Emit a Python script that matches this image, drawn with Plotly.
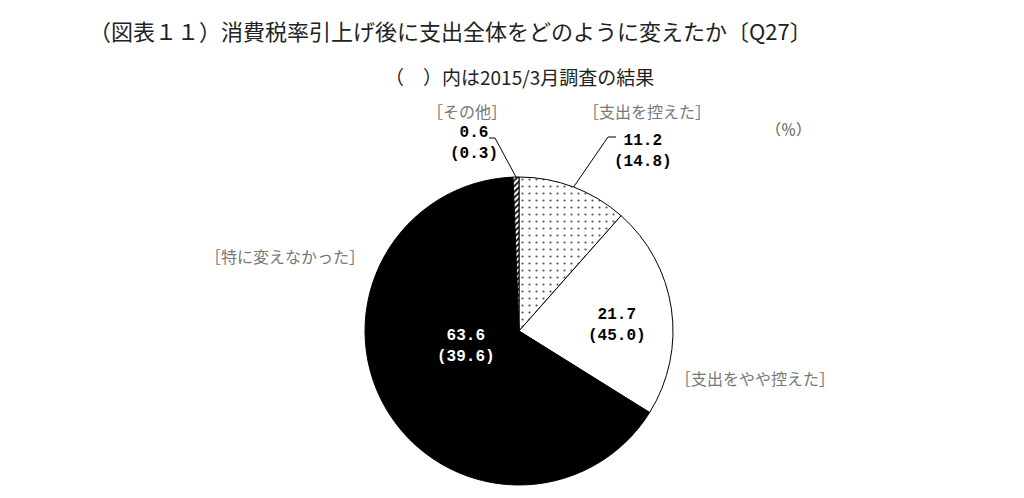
import math
import plotly.graph_objects as go

# data (clockwise from 12 o'clock)
categories = ["支出を控えた", "支出をやや控えた", "特に変えなかった", "その他"]
values_now = [11.2, 21.7, 63.6, 0.6]
values_prev = [14.8, 45.0, 39.6, 0.3]

W, H = 1024, 498
OFF = 8  # page body margin
CX, CY, R = 519, 331, 154  # pie centre / radius on screen, px

FONT = "Noto Sans CJK JP"
NUM_FONT = "Liberation Mono"


def px2paper(px, py):
    return (px - OFF) / W, 1 - (py - OFF) / H


def arc_point(cum, total):
    # point on the rim for a cumulative value (clockwise from top)
    a = 2 * math.pi * cum / total
    return px2paper(CX + R * math.sin(a), CY - R * math.cos(a))


fig = go.Figure()

x0, y0 = px2paper(CX - R, CY + R)
x1, y1 = px2paper(CX + R, CY - R)

fig.add_trace(go.Pie(
    labels=categories,
    values=values_now,
    textinfo="none",
    sort=False,
    direction="clockwise",
    rotation=0,
    marker=dict(
        colors=["white", "white", "black", "white"],
        line=dict(color="black", width=1),
        pattern=dict(
            shape=[".", "", "", "/"],
            fgcolor=["#555", "black", "black", "black"],
            bgcolor="white",
            size=[7, 8, 8, 4],
            solidity=[0.08, 0.3, 0.3, 0.45],
        ),
    ),
    domain=dict(x=[x0, x1], y=[y0, y1]),
    hoverinfo="skip",
    showlegend=False,
))

total = sum(values_now)
annotations = []
shapes = []


def add_text(text, px, py, font):
    x, y = px2paper(px, py)
    annotations.append(dict(
        text=text, x=x, y=y, xref="paper", yref="paper", showarrow=False,
        xanchor="center", yanchor="middle", font=font))


# title and subtitle
add_text("（図表１１）消費税率引上げ後に支出全体をどのように変えたか〔Q27〕", 450, 30,
         dict(family=FONT, size=22, color="#222"))
add_text("（　）内は2015/3月調査の結果", 519, 76, dict(family=FONT, size=19, color="#222"))
add_text("（％）", 788, 128, dict(family=FONT, size=15, color="#555"))

lab_font = dict(family=FONT, size=16, color="#777")

# category labels
label_pos = {
    "その他": (467, 111),
    "支出を控えた": (647, 111),
    "特に変えなかった": (285, 256),
    "支出をやや控えた": (755, 378),
}
for name, (px, py) in label_pos.items():
    add_text(f"［{name}］", px, py, lab_font)

# numbers: outside for the two small slices, inside for the large ones
num_pos = {
    "その他": (474, 143, "black"),
    "支出を控えた": (643, 151, "black"),
    "支出をやや控えた": (617, 325, "black"),
    "特に変えなかった": (466, 346, "white"),
}
for name, (px, py, col) in num_pos.items():
    i = categories.index(name)
    add_text(f"<b>{values_now[i]}</b><br><b>({values_prev[i]})</b>", px, py,
             dict(family=NUM_FONT, size=16, color=col))

# leader lines: from text elbow to rim midpoint of slice
leader = {"その他": ((489, 138), (495, 138)), "支出を控えた": ((616, 137), (608, 137))}
for name, (p0, p1) in leader.items():
    i = categories.index(name)
    mid = sum(values_now[:i]) + values_now[i] / 2
    ex, ey = arc_point(mid, total)
    a0, b0 = px2paper(*p0)
    a1, b1 = px2paper(*p1)
    shapes.append(dict(
        type="path", xref="paper", yref="paper",
        path=f"M {a0} {b0} L {a1} {b1} L {ex} {ey}",
        line=dict(color="black", width=1)))

fig.update_layout(
    width=W, height=H,
    margin=dict(l=0, r=0, t=0, b=0),
    paper_bgcolor="white",
    plot_bgcolor="white",
    annotations=annotations,
    shapes=shapes,
)

fig.write_html("out.html")
